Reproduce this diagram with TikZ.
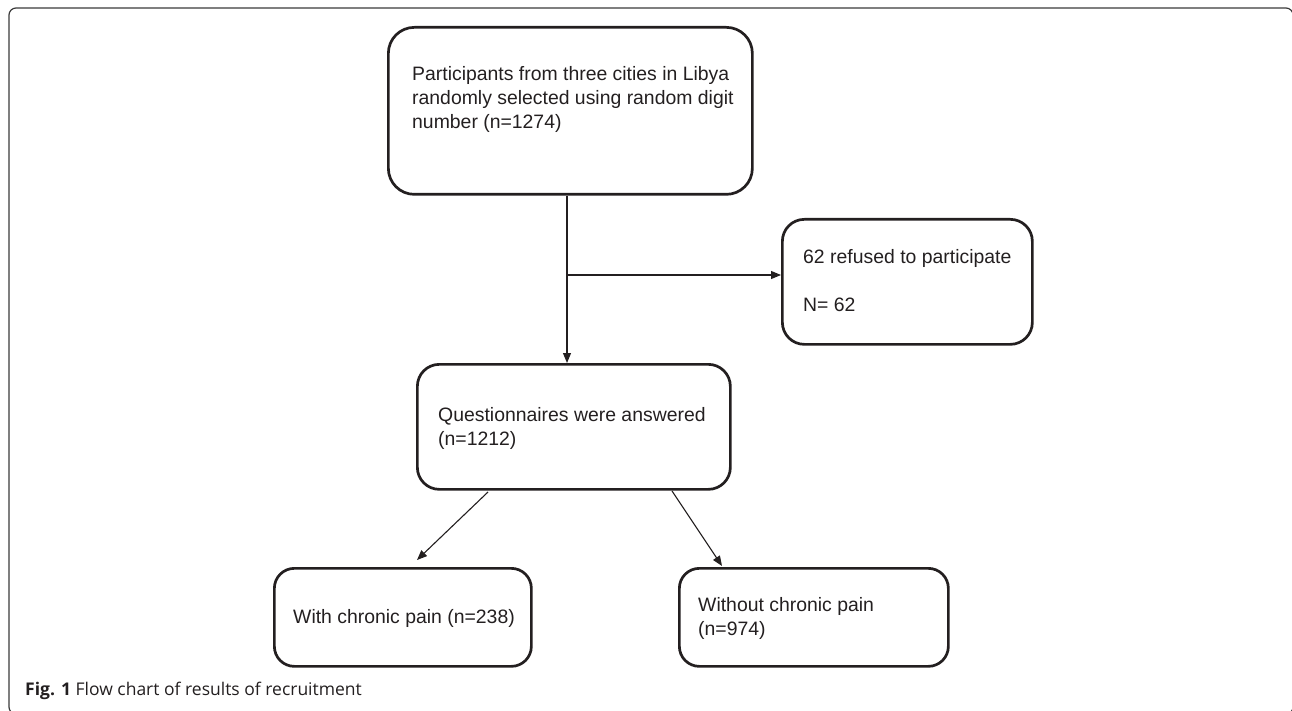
\documentclass[tikz,border=0pt]{standalone}
\usepackage{fontspec}
\setmainfont{Liberation Sans}
\newfontfamily\capfont{Open Sans}
\usetikzlibrary{arrows.meta}
\definecolor{ink}{HTML}{231F20}
\definecolor{framecol}{HTML}{3A3A3A}
\begin{document}
\begin{tikzpicture}[x=1pt,y=-1pt,
  boxstyle/.style={draw=ink, line width=2.7pt, rounded corners=#1, inner sep=0pt, anchor=north west},
  boxstyle/.default=21pt,
  txt/.style={anchor=north west, inner sep=0pt, align=left, font=\fontsize{19.4}{24}\selectfont, text=ink},
  conn/.style={draw=ink, line width=1.1pt, -{Triangle[length=10pt,width=8pt]}}]
\useasboundingbox (0,0) rectangle (1292,711);
% outer frame
\draw[framecol, line width=1.2pt, rounded corners=7pt] (9,8) rectangle (1293,714);
% boxes
\node[boxstyle=26pt, minimum width=364pt, minimum height=167pt] (top) at (387,26) {};
\node[boxstyle=22pt, minimum width=250pt, minimum height=125pt] (ref) at (781,218) {};
\node[boxstyle=22pt, minimum width=313pt, minimum height=125pt] (mid) at (416,363) {};
\node[boxstyle=20pt, minimum width=257pt, minimum height=98pt] (bl) at (273,567) {};
\node[boxstyle=20pt, minimum width=269pt, minimum height=98pt] (brb) at (678,567) {};
% texts
\node[txt] (ttop) at (412,66) {Participants from three cities in Libya\\randomly selected using random digit\\number (n=1274)};
\node[txt] (tref) at (803,249) {62 refused to participate\\[24pt]N= 62};
\node[txt] (tmid) at (438,407) {Questionnaires were answered\\(n=1212)};
\node[txt] (tbl) at (293,609) {With chronic pain (n=238)};
\node[txt] (tbr) at (698,597) {Without chronic pain\\(n=974)};
% connectors
\coordinate (vx) at (567,0);
\coordinate (brn) at (567,275);
\draw[conn] (top.south -| vx) -- (mid.north -| vx);
\draw[conn] (brn) -- (ref.west |- brn);
\coordinate (d1a) at (488,492);
\coordinate (d1b) at (417,560);
\coordinate (d2a) at (672,491);
\coordinate (d2b) at (722,566);
\draw[conn] (d1a) -- (d1b);
\draw[conn] (d2a) -- (d2b);
% caption
\node[anchor=base west, inner sep=0pt, text=ink, font=\capfont\fontsize{17.5}{20}\selectfont] (cap) at (25,695) {\textbf{Fig. 1} Flow chart of results of recruitment};
\end{tikzpicture}
\end{document}
